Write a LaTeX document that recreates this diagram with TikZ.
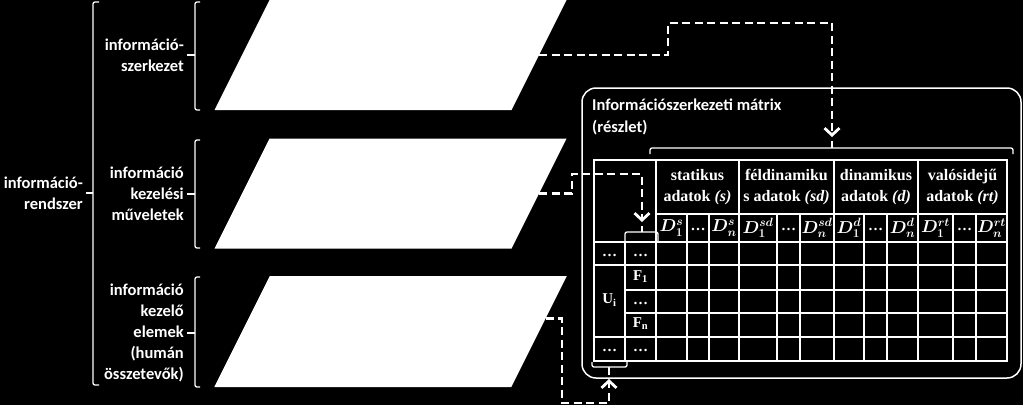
\documentclass[tikz,border=0pt]{standalone}
\usepackage{amsmath,amssymb,bm}
\usepackage{fontspec}
\setmainfont{Liberation Serif}
\newfontfamily\calfont{Carlito}
\usetikzlibrary{arrows.meta,calc}

\begin{document}
\begin{tikzpicture}[x=1pt,y=-1pt,
  lay/.style={fill=white,draw=none,xslant=0.5,minimum width=297pt,minimum height=110pt,inner sep=0pt},
  lbl/.style={text=white,align=right,anchor=east,inner sep=0pt,font=\calfont\bfseries\fontsize{16.5}{21}\selectfont},
  hdr/.style={text=white,align=center,inner sep=0pt,font=\bfseries\fontsize{16}{21}\selectfont},
  cell/.style={text=white,inner sep=0pt,text height=1.5ex,text depth=0.3ex,font=\bfseries\fontsize{15}{18}\selectfont},
  dcell/.style={text=white,inner sep=0pt,font=\fontsize{17}{20}\selectfont},
  grid/.style={white,line width=1.6pt,line cap=rect},
  brk/.style={white,line width=1.3pt,rounded corners=2pt},
  link/.style={white,line width=2.8pt,dash pattern=on 8pt off 4.5pt,-{Straight Barb[length=7pt,width=15pt,line width=2.8pt]}},
]

\fill[black] (0,0) rectangle (1023,405);
\useasboundingbox (0,0) rectangle (1023,405);

% layers
\node[lay] (lay1) at (390.5,55) {};
\node[lay] (lay2) at (390.5,193.5) {};
\node[lay,minimum height=111pt] (lay3) at (390.5,331.5) {};
\coordinate (out3) at ($(lay3.south east)!0.62!(lay3.north east)$);

% labels on the left
\node[lbl] (lblA) at (184,55) {információ-\\szerkezet};
\node[lbl] (lblB) at (184,194) {információ\\kezelési\\műveletek};
\node[lbl] (lblC) at (184,333) {információ\\kezelő\\elemek\\(humán\\összetevők)};
\node[lbl] (lblD) at (83,193) {információ-\\rendszer};

\draw[brk] (200,2) -- (195,2) -- (195,110) -- (200,110);
\draw[brk] (200,140) -- (195,140) -- (195,248) -- (200,248);
\draw[brk] (200,277) -- (195,277) -- (195,387) -- (200,387);
\draw[brk] (99,2) -- (93,2) -- (93,385) -- (99,385);
\draw[brk] (195,55) -- ([xshift=3pt]lblA.east);
\draw[brk] (195,194) -- ([xshift=3pt]lblB.east);
\draw[brk] (195,333) -- ([xshift=3pt]lblC.east);
\draw[brk] (93,193) -- ([xshift=3pt]lblD.east);

% matrix frame
\node[draw=white,line width=1.5pt,rounded corners=14pt,minimum width=439pt,minimum height=290pt,inner sep=0pt] (mtx) at (801.5,233) {};
\node[text=white,anchor=base west,align=left,inner sep=0pt,font=\calfont\bfseries\fontsize{16.5}{22}\selectfont] (mtxtitle) at (592,132) {Információszerkezeti mátrix\\(részlet)};

% table
\foreach \y in {160,242,265,337,361} \draw[grid] (594,\y) -- (1007,\y);
\foreach \y in {290,313} \draw[grid] (625,\y) -- (1007,\y);
\draw[grid] (656,214) -- (1007,214);
\foreach \x in {594,656,739,834,918,1007} \draw[grid] (\x,160) -- (\x,361);
\draw[grid] (625,242) -- (625,361);
\foreach \x in {687,709,777,800,864,887,953,976} \draw[grid] (\x,214) -- (\x,361);

\node[hdr] (grpS) at (697.5,187) {statikus\\adatok \textit{(s)}};
\node[hdr] (grpSD) at (786.5,187) {féldinamiku\\s adatok \textit{(sd)}};
\node[hdr] (grpD) at (876,187) {dinamikus\\adatok \textit{(d)}};
\node[hdr] (grpRT) at (962.5,187) {valósidejű\\adatok \textit{(rt)}};

\node[dcell] (ds1) at (671.5,228) {$\bm{D_1^{s}}$};
\node[cell] (dsdots) at (698,228) {…};
\node[dcell] (dsn) at (724,228) {$\bm{D_n^{s}}$};
\node[dcell] (dsd1) at (758,228) {$\bm{D_1^{sd}}$};
\node[cell] (dsddots) at (788.5,228) {…};
\node[dcell] (dsdn) at (817,228) {$\bm{D_n^{sd}}$};
\node[dcell] (dd1) at (849,228) {$\bm{D_1^{d}}$};
\node[cell] (dddots) at (875.5,228) {…};
\node[dcell] (ddn) at (902.5,228) {$\bm{D_n^{d}}$};
\node[dcell] (drt1) at (935.5,228) {$\bm{D_1^{rt}}$};
\node[cell] (drtdots) at (964.5,228) {…};
\node[dcell] (drtn) at (991.5,228) {$\bm{D_n^{rt}}$};

\node[cell] (rowA1) at (609.5,253.5) {…};
\node[cell] (rowA2) at (640.5,253.5) {…};
\node[cell] (ui) at (609.5,301) {U\textsubscript{i}};
\node[cell] (fone) at (640.5,277.5) {F\textsubscript{1}};
\node[cell] (fdots) at (640.5,301.5) {…};
\node[cell] (fn) at (640.5,325) {F\textsubscript{n}};
\node[cell] (rowB1) at (609.5,349) {…};
\node[cell] (rowB2) at (640.5,349) {…};

% brackets in the matrix
\coordinate (hdrtip) at (832,137);
\coordinate (ftip) at (642,222);
\coordinate (utip) at (609,379);
\draw[brk] (650,154) -- (650,148) -- (1013,148) -- (1013,154);
\draw[brk] (832,148) -- (832,141);
\draw[brk] (625,241) -- (625,232) -- (658,232) -- (658,241);
\draw[brk] (642,232) -- (642,226);
\draw[brk] (592,362) -- (592,367) -- (627,367) -- (627,362);
\draw[brk] (609,367) -- (609,375);

% links
\draw[link] (lay1.east) -| (668,23) -| (hdrtip);
\draw[link] (lay2.east) -| (572,174) -| (ftip);
\draw[link] (out3) -| (562,403) -| (utip);

\end{tikzpicture}
\end{document}
